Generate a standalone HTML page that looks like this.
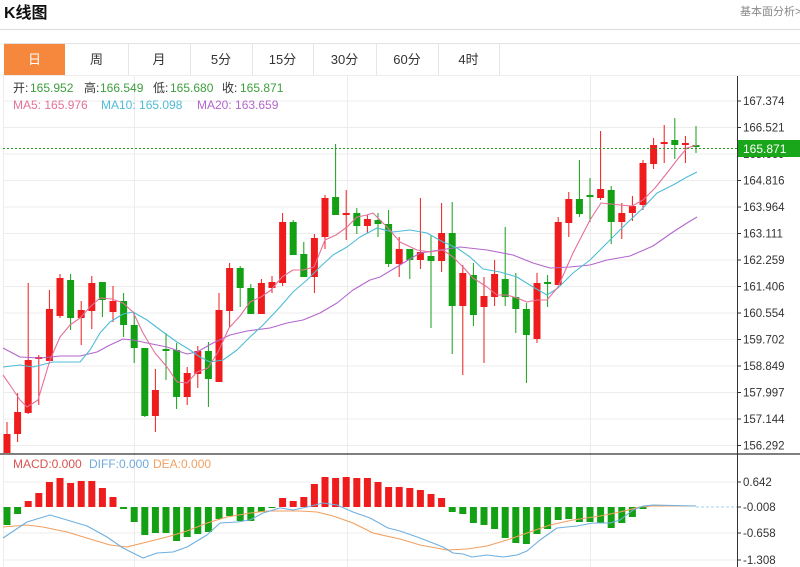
<!DOCTYPE html>
<html><head><meta charset="utf-8">
<style>
html,body{margin:0;padding:0;background:#fff;}
body{width:800px;height:567px;overflow:hidden;}
svg{display:block;font-family:"Liberation Sans","Noto Sans CJK SC",sans-serif;}
</style></head>
<body>
<svg width="800" height="567" viewBox="0 0 800 567" xmlns="http://www.w3.org/2000/svg">
<rect width="800" height="567" fill="#fff"/>
<!-- header -->
<text x="4" y="18" font-size="16" font-weight="bold" fill="#111">K线图</text>
<text x="740" y="15" font-size="11" fill="#888">基本面分析&gt;</text>
<line x1="0" y1="29.5" x2="800" y2="29.5" stroke="#dcdcdc"/>
<!-- tabs -->
<line x1="4" y1="43.5" x2="800" y2="43.5" stroke="#e3e3e3"/>
<rect x="4" y="44" width="61" height="31" fill="#f5883d"/>
<g stroke="#e6e6e6">
<line x1="128.5" y1="44" x2="128.5" y2="75"/><line x1="190.5" y1="44" x2="190.5" y2="75"/>
<line x1="252.5" y1="44" x2="252.5" y2="75"/><line x1="313.5" y1="44" x2="313.5" y2="75"/>
<line x1="376.5" y1="44" x2="376.5" y2="75"/><line x1="438.5" y1="44" x2="438.5" y2="75"/>
<line x1="499.5" y1="44" x2="499.5" y2="75"/>
</g>
<g font-size="13" fill="#333" text-anchor="middle">
<text x="34.5" y="64" fill="#fff">日</text>
<text x="96.5" y="64">周</text><text x="159" y="64">月</text><text x="221" y="64">5分</text>
<text x="282.5" y="64">15分</text><text x="344.5" y="64">30分</text><text x="407" y="64">60分</text><text x="468.5" y="64">4时</text>
</g>
<!-- grid -->
<g stroke="#ececec">
<line x1="3" y1="75.5" x2="800" y2="75.5"/>
<line x1="3" y1="101" x2="737" y2="101"/><line x1="3" y1="127.5" x2="737" y2="127.5"/>
<line x1="3" y1="154" x2="737" y2="154"/><line x1="3" y1="180.5" x2="737" y2="180.5"/>
<line x1="3" y1="207" x2="737" y2="207"/><line x1="3" y1="233.5" x2="737" y2="233.5"/>
<line x1="3" y1="260" x2="737" y2="260"/><line x1="3" y1="286.5" x2="737" y2="286.5"/>
<line x1="3" y1="313" x2="737" y2="313"/><line x1="3" y1="339.5" x2="737" y2="339.5"/>
<line x1="3" y1="366" x2="737" y2="366"/><line x1="3" y1="392.5" x2="737" y2="392.5"/>
<line x1="3" y1="419" x2="737" y2="419"/><line x1="3" y1="445.5" x2="737" y2="445.5"/>
<line x1="3" y1="482" x2="737" y2="482"/><line x1="3" y1="533" x2="737" y2="533"/>
<line x1="3" y1="560" x2="737" y2="560"/>
<line x1="134.5" y1="76" x2="134.5" y2="567"/><line x1="347.5" y1="76" x2="347.5" y2="567"/>
<line x1="590.5" y1="76" x2="590.5" y2="567"/>
<line x1="3.5" y1="76" x2="3.5" y2="567"/>
</g>
<!-- info text -->
<g font-size="12">
<text x="13" y="92" fill="#333">开:</text><text x="30" y="92" fill="#3d9e3d">165.952</text>
<text x="84" y="92" fill="#333">高:</text><text x="100" y="92" fill="#3d9e3d">166.549</text>
<text x="153" y="92" fill="#333">低:</text><text x="170" y="92" fill="#3d9e3d">165.680</text>
<text x="222" y="92" fill="#333">收:</text><text x="240" y="92" fill="#3d9e3d">165.871</text>
<text x="13" y="109" fill="#e5709a">MA5: 165.976</text>
<text x="101" y="109" fill="#4fbcd6">MA10: 165.098</text>
<text x="197" y="109" fill="#b466cc">MA20: 163.659</text>
</g>
<!-- red candles -->
<g stroke="#ee1c1c" stroke-width="1">
<line x1="7" y1="422" x2="7" y2="453"/><line x1="17.6" y1="393" x2="17.6" y2="442"/>
<line x1="28.2" y1="283" x2="28.2" y2="414"/><line x1="38.8" y1="355" x2="38.8" y2="405"/>
<line x1="49.4" y1="290" x2="49.4" y2="361"/><line x1="60" y1="274" x2="60" y2="318"/>
<line x1="81.2" y1="301" x2="81.2" y2="345"/><line x1="91.8" y1="276" x2="91.8" y2="329"/>
<line x1="113" y1="286" x2="113" y2="322"/><line x1="155.4" y1="369" x2="155.4" y2="432"/>
<line x1="187.2" y1="367" x2="187.2" y2="405"/><line x1="197.8" y1="346" x2="197.8" y2="388"/>
<line x1="219" y1="293" x2="219" y2="382"/><line x1="229.6" y1="263" x2="229.6" y2="327"/>
<line x1="261.4" y1="279" x2="261.4" y2="314"/><line x1="272" y1="276" x2="272" y2="293"/>
<line x1="282.6" y1="213" x2="282.6" y2="286"/><line x1="314.4" y1="234" x2="314.4" y2="293"/>
<line x1="325" y1="195" x2="325" y2="249"/><line x1="346.2" y1="190" x2="346.2" y2="240"/>
<line x1="367.4" y1="215" x2="367.4" y2="233"/><line x1="399.2" y1="237" x2="399.2" y2="277"/>
<line x1="420.4" y1="198" x2="420.4" y2="269"/><line x1="441.6" y1="203" x2="441.6" y2="272"/>
<line x1="462.8" y1="265" x2="462.8" y2="375"/><line x1="484" y1="277" x2="484" y2="363"/>
<line x1="494.6" y1="260" x2="494.6" y2="306"/><line x1="537" y1="273" x2="537" y2="343"/>
<line x1="558.2" y1="217" x2="558.2" y2="285"/><line x1="568.8" y1="192" x2="568.8" y2="237"/>
<line x1="600.6" y1="131" x2="600.6" y2="200"/><line x1="621.8" y1="203" x2="621.8" y2="239"/>
<line x1="632.4" y1="196" x2="632.4" y2="221"/><line x1="643" y1="160" x2="643" y2="210"/>
<line x1="653.6" y1="138" x2="653.6" y2="169"/><line x1="664.2" y1="125" x2="664.2" y2="163"/>
<line x1="685.4" y1="136" x2="685.4" y2="163"/>
</g>
<g fill="#ee1c1c">
<rect x="3.5" y="434" width="7" height="19"/><rect x="14.1" y="412" width="7" height="22"/>
<rect x="24.7" y="360" width="7" height="53"/><rect x="35.3" y="357" width="7" height="2"/>
<rect x="45.9" y="309" width="7" height="52"/><rect x="56.5" y="278" width="7" height="38"/>
<rect x="77.7" y="310" width="7" height="8"/><rect x="88.3" y="283" width="7" height="28"/>
<rect x="109.5" y="301" width="7" height="11"/><rect x="151.9" y="390" width="7" height="26"/>
<rect x="183.7" y="373" width="7" height="24"/><rect x="194.3" y="351" width="7" height="23"/>
<rect x="215.5" y="310" width="7" height="72"/><rect x="226.1" y="268" width="7" height="43"/>
<rect x="257.9" y="283" width="7" height="31"/><rect x="268.5" y="282" width="7" height="6"/>
<rect x="279.1" y="222" width="7" height="61"/><rect x="310.9" y="238" width="7" height="39"/>
<rect x="321.5" y="198" width="7" height="39"/><rect x="342.7" y="213" width="7" height="2"/>
<rect x="363.9" y="219" width="7" height="7"/><rect x="395.7" y="249" width="7" height="15"/>
<rect x="416.9" y="252" width="7" height="8"/><rect x="438.1" y="233" width="7" height="28"/>
<rect x="459.3" y="273" width="7" height="33"/><rect x="480.5" y="296" width="7" height="11"/>
<rect x="491.1" y="274" width="7" height="23"/><rect x="533.5" y="283" width="7" height="56"/>
<rect x="554.7" y="222" width="7" height="63"/><rect x="565.3" y="199" width="7" height="24"/>
<rect x="597.1" y="189" width="7" height="9"/><rect x="618.3" y="213" width="7" height="9"/>
<rect x="628.9" y="206" width="7" height="7"/><rect x="639.5" y="163" width="7" height="42"/>
<rect x="650.1" y="145" width="7" height="19"/><rect x="660.7" y="142" width="7" height="2"/>
<rect x="681.9" y="143" width="7" height="2"/>
</g>
<!-- green candles -->
<g stroke="#14a014" stroke-width="1">
<line x1="70.6" y1="274" x2="70.6" y2="330"/><line x1="102.4" y1="282" x2="102.4" y2="317"/>
<line x1="123.6" y1="293" x2="123.6" y2="337"/><line x1="134.2" y1="312" x2="134.2" y2="363"/>
<line x1="144.8" y1="348" x2="144.8" y2="417"/><line x1="166" y1="333" x2="166" y2="380"/>
<line x1="176.6" y1="343" x2="176.6" y2="409"/><line x1="208.4" y1="342" x2="208.4" y2="407"/>
<line x1="240.2" y1="266" x2="240.2" y2="307"/><line x1="250.8" y1="284" x2="250.8" y2="314"/>
<line x1="293.2" y1="220" x2="293.2" y2="255"/><line x1="303.8" y1="242" x2="303.8" y2="277"/>
<line x1="335.6" y1="144" x2="335.6" y2="215"/><line x1="356.8" y1="208" x2="356.8" y2="234"/>
<line x1="378" y1="213" x2="378" y2="237"/><line x1="388.6" y1="210" x2="388.6" y2="267"/>
<line x1="409.8" y1="249" x2="409.8" y2="279"/><line x1="431" y1="235" x2="431" y2="328"/>
<line x1="452.2" y1="202" x2="452.2" y2="354"/><line x1="473.4" y1="263" x2="473.4" y2="326"/>
<line x1="505.2" y1="227" x2="505.2" y2="306"/><line x1="515.8" y1="273" x2="515.8" y2="333"/>
<line x1="526.4" y1="303" x2="526.4" y2="383"/><line x1="547.6" y1="275" x2="547.6" y2="307"/>
<line x1="579.4" y1="160" x2="579.4" y2="217"/><line x1="590" y1="178" x2="590" y2="222"/>
<line x1="611.2" y1="186" x2="611.2" y2="244"/><line x1="674.8" y1="118" x2="674.8" y2="159"/>
<line x1="696" y1="126" x2="696" y2="153"/>
</g>
<g fill="#14a014">
<rect x="67.1" y="280" width="7" height="38"/><rect x="98.9" y="282" width="7" height="18"/>
<rect x="120.1" y="301" width="7" height="24"/><rect x="130.7" y="325" width="7" height="23"/>
<rect x="141.3" y="348" width="7" height="68"/><rect x="162.5" y="349" width="7" height="2"/>
<rect x="173.1" y="350" width="7" height="47"/><rect x="204.9" y="351" width="7" height="28"/>
<rect x="236.7" y="268" width="7" height="20"/><rect x="247.3" y="288" width="7" height="26"/>
<rect x="289.7" y="222" width="7" height="33"/><rect x="300.3" y="254" width="7" height="23"/>
<rect x="332.1" y="197" width="7" height="18"/><rect x="353.3" y="213" width="7" height="13"/>
<rect x="374.5" y="220" width="7" height="4"/><rect x="385.1" y="224" width="7" height="40"/>
<rect x="406.3" y="249" width="7" height="11"/><rect x="427.5" y="256" width="7" height="5"/>
<rect x="448.7" y="233" width="7" height="73"/><rect x="469.9" y="275" width="7" height="40"/>
<rect x="501.7" y="279" width="7" height="18"/><rect x="512.3" y="297" width="7" height="12"/>
<rect x="522.9" y="309" width="7" height="26"/><rect x="544.1" y="282" width="7" height="2"/>
<rect x="575.9" y="199" width="7" height="15"/><rect x="586.5" y="195" width="7" height="2"/>
<rect x="607.7" y="190" width="7" height="32"/><rect x="671.3" y="140" width="7" height="5"/>
<rect x="692.5" y="145" width="7" height="2"/>
</g>
<!-- MA lines -->
<g fill="none" stroke-width="1.1" stroke-linejoin="round">
<polyline stroke="#b466cc" points="3,348 20,357 40,358 60,356 80,356 97,352 110,345 123,339 133,340 147,343 167,347 187,354 197,352 213,343 230,335 247,331 270,328 287,323 303,320 320,313 337,303 353,290 370,280 380,277 400,265 420,253 440,250 460,247 487,250 513,255 533,263 550,268 570,267 590,265 607,260 630,256 653,246 673,232 687,223 697,217"/>
<polyline stroke="#4fbcd6" points="3,367 20,365 33,367 53,362 80,362 90,350 100,333 110,322 123,314 133,312 147,320 163,332 177,342 190,350 200,357 210,362 223,360 237,350 250,337 263,325 280,307 293,292 307,280 320,267 333,255 347,247 360,237 377,228 393,232 410,230 427,233 443,242 457,248 470,257 483,269 500,272 517,277 533,287 547,295 558,288 573,273 590,260 610,240 627,223 643,208 657,193 673,185 687,177 697,172"/>
<polyline stroke="#e5709a" points="3,375 10,385 20,400 27,407 38,400 50,360 60,337 70,325 80,318 90,307 100,298 112,299 123,303 133,312 143,333 155,353 167,367 177,382 187,383 197,372 208,368 218,352 229,328 240,316 250,302 261,297 271,290 282,277 293,270 303,270 314,267 325,240 336,235 347,227 357,217 367,215 373,213 387,227 400,242 417,250 430,252 443,250 453,257 463,267 473,278 487,287 497,295 507,295 517,298 527,302 537,300 547,300 558,287 573,253 590,220 601,203 620,205 632,206 643,200 655,188 667,173 677,160 687,148 697,145"/>
</g>
<!-- current price line -->
<line x1="3" y1="148.5" x2="737" y2="148.5" stroke="#2a9a2a" stroke-dasharray="2,2"/>
<!-- separator -->
<line x1="0" y1="454" x2="800" y2="454" stroke="#333" stroke-width="1.2"/>
<!-- MACD label -->
<g font-size="12">
<text x="13" y="468" fill="#d9534f">MACD:0.000</text>
<text x="89" y="468" fill="#6fa8dc">DIFF:0.000</text>
<text x="153" y="468" fill="#f0a060">DEA:0.000</text>
</g>
<!-- MACD bars -->
<g fill="#ee1c1c">
<rect x="24.7" y="501" width="7" height="6"/><rect x="35.3" y="493" width="7" height="14"/>
<rect x="45.9" y="482" width="7" height="25"/><rect x="56.5" y="478" width="7" height="29"/>
<rect x="67.1" y="483" width="7" height="24"/><rect x="77.7" y="481" width="7" height="26"/>
<rect x="88.3" y="481" width="7" height="26"/><rect x="98.9" y="488" width="7" height="19"/>
<rect x="109.5" y="497" width="7" height="10"/>
<rect x="279.1" y="498" width="7" height="9"/><rect x="289.7" y="501" width="7" height="6"/>
<rect x="300.3" y="497" width="7" height="10"/><rect x="310.9" y="484" width="7" height="23"/>
<rect x="321.5" y="477" width="7" height="30"/><rect x="332.1" y="478" width="7" height="29"/>
<rect x="342.7" y="477" width="7" height="30"/><rect x="353.3" y="478" width="7" height="29"/>
<rect x="363.9" y="478" width="7" height="29"/><rect x="374.5" y="482" width="7" height="25"/>
<rect x="385.1" y="487" width="7" height="20"/><rect x="395.7" y="487" width="7" height="20"/>
<rect x="406.3" y="488" width="7" height="19"/><rect x="416.9" y="490" width="7" height="17"/>
<rect x="427.5" y="494" width="7" height="13"/><rect x="438.1" y="498" width="7" height="9"/>
</g>
<g fill="#14a014">
<rect x="3.5" y="507" width="7" height="18"/><rect x="14.1" y="507" width="7" height="7"/>
<rect x="120.1" y="507" width="7" height="2"/><rect x="130.7" y="507" width="7" height="15"/>
<rect x="141.3" y="507" width="7" height="28"/><rect x="151.9" y="507" width="7" height="26"/>
<rect x="162.5" y="507" width="7" height="26"/><rect x="173.1" y="507" width="7" height="34"/>
<rect x="183.7" y="507" width="7" height="30"/><rect x="194.3" y="507" width="7" height="27"/>
<rect x="204.9" y="507" width="7" height="25"/><rect x="215.5" y="507" width="7" height="12"/>
<rect x="226.1" y="507" width="7" height="9"/><rect x="236.7" y="507" width="7" height="14"/>
<rect x="247.3" y="507" width="7" height="14"/><rect x="257.9" y="507" width="7" height="5"/>
<rect x="268.5" y="507" width="7" height="1"/>
<rect x="448.7" y="507" width="7" height="5"/><rect x="459.3" y="507" width="7" height="7"/>
<rect x="469.9" y="507" width="7" height="16"/><rect x="480.5" y="507" width="7" height="18"/>
<rect x="491.1" y="507" width="7" height="22"/><rect x="501.7" y="507" width="7" height="31"/>
<rect x="512.3" y="507" width="7" height="36"/><rect x="522.9" y="507" width="7" height="37"/>
<rect x="533.5" y="507" width="7" height="27"/><rect x="544.1" y="507" width="7" height="22"/>
<rect x="554.7" y="507" width="7" height="13"/><rect x="565.3" y="507" width="7" height="12"/>
<rect x="575.9" y="507" width="7" height="15"/><rect x="586.5" y="507" width="7" height="15"/>
<rect x="597.1" y="507" width="7" height="16"/><rect x="607.7" y="507" width="7" height="21"/>
<rect x="618.3" y="507" width="7" height="16"/><rect x="628.9" y="507" width="7" height="10"/>
<rect x="639.5" y="507" width="7" height="2"/>
</g>
<!-- DIFF / DEA -->
<g fill="none" stroke-width="1.1" stroke-linejoin="round">
<polyline stroke="#f0a060" points="3,527 27,525 43,527 67,532 90,539 110,545 127,547 143,543 167,537 187,531 207,523 227,517 250,513 267,511 300,511 317,512 333,516 353,523 373,533 400,539 420,545 447,550 467,549 487,546 507,540 527,533 550,525 573,520 600,516 620,512 640,507 653,506 696,506"/>
<polyline stroke="#6fb0e0" points="3,538 27,522 50,515 67,520 87,526 107,537 123,548 143,558 157,553 173,552 187,547 207,535 220,523 237,522 250,520 263,513 280,508 293,510 307,507 323,503 337,505 353,512 370,518 388,528 400,531 420,538 443,547 453,553 463,554 472,557 487,555 503,557 517,555 527,551 540,540 557,528 577,526 593,523 610,523 620,520 633,510 643,506 653,505 696,506"/>
</g>
<line x1="696" y1="507" x2="737" y2="507" stroke="#9fd4e8" stroke-dasharray="3,2"/>
<!-- axis -->
<line x1="737.5" y1="76" x2="737.5" y2="567" stroke="#333"/>
<g stroke="#333">
<line x1="737" y1="101" x2="741" y2="101"/><line x1="737" y1="127.5" x2="741" y2="127.5"/>
<line x1="737" y1="154" x2="741" y2="154"/><line x1="737" y1="180.5" x2="741" y2="180.5"/>
<line x1="737" y1="207" x2="741" y2="207"/><line x1="737" y1="233.5" x2="741" y2="233.5"/>
<line x1="737" y1="260" x2="741" y2="260"/><line x1="737" y1="286.5" x2="741" y2="286.5"/>
<line x1="737" y1="313" x2="741" y2="313"/><line x1="737" y1="339.5" x2="741" y2="339.5"/>
<line x1="737" y1="366" x2="741" y2="366"/><line x1="737" y1="392.5" x2="741" y2="392.5"/>
<line x1="737" y1="419" x2="741" y2="419"/><line x1="737" y1="445.5" x2="741" y2="445.5"/>
<line x1="737" y1="482" x2="741" y2="482"/><line x1="737" y1="507" x2="741" y2="507"/>
<line x1="737" y1="533" x2="741" y2="533"/><line x1="737" y1="560" x2="741" y2="560"/>
</g>
<g font-size="11.5" fill="#333">
<text x="743" y="105">167.374</text><text x="743" y="131.5">166.521</text>
<text x="743" y="158">165.669</text><text x="743" y="184.5">164.816</text>
<text x="743" y="211">163.964</text><text x="743" y="237.5">163.111</text>
<text x="743" y="264">162.259</text><text x="743" y="290.5">161.406</text>
<text x="743" y="317">160.554</text><text x="743" y="343.5">159.702</text>
<text x="743" y="370">158.849</text><text x="743" y="396.5">157.997</text>
<text x="743" y="423">157.144</text><text x="743" y="449.5">156.292</text>
<text x="743" y="486">0.642</text><text x="743" y="511">-0.008</text>
<text x="743" y="537">-0.658</text><text x="743" y="564">-1.308</text>
</g>
<!-- current price label -->
<rect x="738" y="140" width="62" height="17" fill="#1aa61a"/>
<text x="743" y="153" font-size="12" fill="#fff">165.871</text>
</svg>
</body></html>
